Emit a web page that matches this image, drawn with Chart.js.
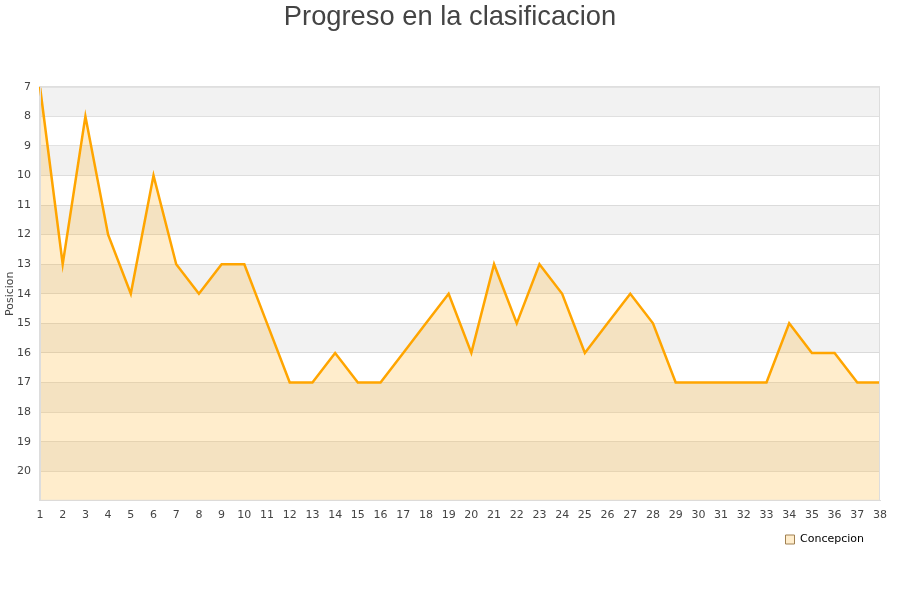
<!DOCTYPE html>
<html>
<head>
<meta charset="utf-8">
<script src="https://cdn.jsdelivr.net/npm/chart.js@4/dist/chart.umd.min.js"></script>
<style>
  html, body { margin: 0; padding: 0; background: #fff; }
  #wrap { width: 900px; height: 600px; }
</style>
</head>
<body>
<div id="wrap"><canvas id="chart" width="900" height="600"></canvas></div>
<script>
const jornadas = ['1', '2', '3', '4', '5', '6', '7', '8', '9', '10', '11', '12', '13', '14', '15', '16', '17', '18', '19',
  '20', '21', '22', '23', '24', '25', '26', '27', '28', '29', '30', '31', '32', '33', '34', '35', '36', '37', '38']
const posiciones = [7, 13, 8, 12, 14, 10, 13, 14, 13, 13, 15, 17, 17, 16, 17, 17, 16, 15, 14,
  16, 13, 15, 13, 14, 16, 15, 14, 15, 17, 17, 17, 17, 17, 15, 16, 16, 17, 17]
const equipo = 'Concepcion'
const ejeY = 'Posicion'
const posMin = 7
const posMax = 21

// alternating grey / white bands behind the grid, y title and plot border
const bandsPlugin = {
  id: 'bands',
  afterLayout(chart) {
    // legend sits a little in from the right edge, title centred on the canvas
    chart.legend.left -= 12
    chart.legend.right -= 12
    chart.titleBlock.left += 6
    chart.titleBlock.right += 6
  },
  beforeDraw(chart) {
    const { ctx, chartArea, scales } = chart
    const y = scales.y
    ctx.save()
    for (let v = posMin; v < posMax; v++) {
      if ((v - posMin) % 2 != 0) continue
      const top = y.getPixelForValue(v)
      const bottom = y.getPixelForValue(v + 1)
      ctx.fillStyle = '#f2f2f2'
      ctx.fillRect(chartArea.left, top, chartArea.right - chartArea.left, bottom - top)
    }
    ctx.restore()
  },
  afterDraw(chart) {
    const { ctx, chartArea } = chart
    ctx.save()
    ctx.strokeStyle = '#dddddd'
    ctx.lineWidth = 1
    ctx.strokeRect(chartArea.left + 0.5, chartArea.top + 0.5, chartArea.right - chartArea.left - 1, chartArea.bottom - chartArea.top - 1)

    ctx.translate(10, (chartArea.top + chartArea.bottom) / 2)
    ctx.rotate(-Math.PI / 2)
    ctx.fillStyle = '#444'
    ctx.font = '11px "DejaVu Sans"'
    ctx.textAlign = 'center'
    ctx.textBaseline = 'middle'
    ctx.fillText(ejeY, 0, 0)
    ctx.restore()
  }
}

new Chart(document.getElementById('chart'), {
  type: 'line',
  data: {
    labels: jornadas,
    datasets: [{
      label: equipo,
      data: posiciones,
      borderColor: '#ffa500',
      backgroundColor: 'rgba(255,165,0,0.2)',
      borderWidth: 2.5,
      pointRadius: 0,
      tension: 0,
      fill: 'start'
    }]
  },
  options: {
    responsive: false,
    animation: false,
    layout: { padding: { top: 1, right: 20, bottom: 45, left: 8 } },
    plugins: {
      title: {
        display: true,
        text: 'Progreso en la clasificacion',
        color: '#444',
        font: { family: 'Liberation Sans', size: 27.3, weight: 'normal' },
        padding: { top: 0, bottom: 53 }
      },
      legend: {
        position: 'bottom',
        align: 'end',
        labels: {
          boxWidth: 9,
          boxHeight: 9,
          padding: 4,
          color: '#222',
          font: { family: 'DejaVu Sans', size: 11 },
          generateLabels(chart) {
            return [{
              text: equipo,
              fillStyle: 'rgba(255,165,0,0.2)',
              strokeStyle: '#a08050',
              lineWidth: 1,
              datasetIndex: 0
            }]
          }
        }
      },
      tooltip: { enabled: false }
    },
    scales: {
      x: {
        offset: false,
        grid: { display: false, drawTicks: false },
        border: { color: '#dddddd' },
        ticks: {
          color: '#444',
          font: { family: 'DejaVu Sans', size: 11 },
          maxRotation: 0,
          autoSkip: false,
          padding: 8
        }
      },
      y: {
        reverse: true,
        min: posMin,
        max: posMax,
        grid: { color: 'rgba(190,190,190,0.45)', drawTicks: false },
        border: { color: '#dddddd' },
        ticks: {
          stepSize: 1,
          color: '#444',
          font: { family: 'DejaVu Sans', size: 11 },
          padding: 9,
          callback: v => (v == posMax ? '' : v)
        }
      }
    }
  },
  plugins: [bandsPlugin]
})
</script>
</body>
</html>
